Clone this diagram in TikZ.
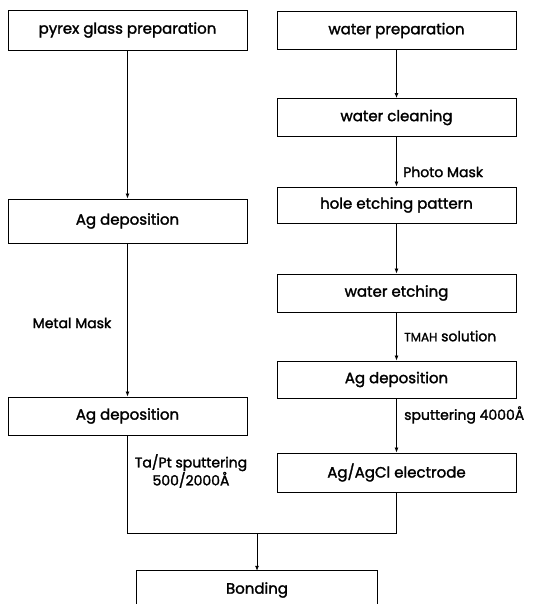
\documentclass[tikz,border=0pt]{standalone}
\usepackage{fontspec}
\setmainfont{Poppins}[FakeBold=1.8]
\newfontfamily\boldish{Poppins}[FakeBold=1.8]
\usetikzlibrary{arrows.meta}
\begin{document}
\begin{tikzpicture}[x=1pt,y=-1pt,
  box/.style={draw, line width=0.9pt, minimum width=239pt, minimum height=38pt, inner sep=0pt, font=\boldish\fontsize{15}{16}\selectfont},
  plain/.style={inner sep=0pt, font=\boldish\fontsize{15}{16}\selectfont},
  lbl/.style={inner sep=0pt, font=\boldish\fontsize{14}{18}\selectfont, align=center},
  conn/.style={line width=0.8pt},
  arr/.style={line width=0.8pt, -{Latex[length=5pt,width=4pt]}}]
\useasboundingbox (0,0) rectangle (535,604);
% left column
\node[box, minimum height=40pt] (pyrex) at (127.5,30) {pyrex glass preparation};
\node[box, minimum height=44pt] (agl1) at (127.5,221) {Ag deposition};
\node[box] (agl2) at (127.5,416) {Ag deposition};
% right column
\node[box] (wprep) at (396.5,30.5) {water preparation};
\node[box] (wclean) at (396.5,117.5) {water cleaning};
\node[box, minimum height=36pt] (hole) at (396.5,205) {hole etching pattern};
\node[box] (wetch) at (396.5,293) {water etching};
\node[box, minimum height=37pt] (agr) at (396.5,379.5) {Ag deposition};
\node[box, minimum height=39pt] (agcl) at (396.5,472.5) {Ag/AgCl electrode};
% bonding (bottom cut by the page edge)
\node[plain, minimum width=240pt, minimum height=38pt] (bond) at (257,590) {Bonding};
\draw[line width=0.9pt] (bond.west |- 0,606) -- (bond.north west) -- (bond.north east) -- (bond.east |- 0,606);
% connectors
\draw[arr] (pyrex.south) -- (agl1.north);
\draw[arr] (agl1.south) -- (agl2.north);
\draw[arr] (wprep.south) -- (wclean.north);
\draw[arr] (wclean.south) -- (hole.north);
\draw[arr] (hole.south) -- (wetch.north);
\draw[arr] (wetch.south) -- (agr.north);
\draw[arr] (agr.south) -- (agcl.north);
\coordinate (jl) at (127.5,533);
\coordinate (jr) at (396.5,533);
\coordinate (jm) at (257,533);
\draw[conn] (agl2.south) -- (jl) -- (jr) -- (agcl.south);
\draw[arr] (jm) -- (bond.north);
% labels
\node[lbl] (lmetal) at (72,323) {Metal Mask};
\node[lbl, anchor=west] (lphoto) at (403,172) {Photo Mask};
\node[lbl, anchor=west] (ltmah) at (404,336) {{\fontsize{12}{13}\selectfont TMAH} solution};
\node[lbl, anchor=west] (lsput) at (404,415) {sputtering 4000Å};
\node[lbl] (ltapt) at (191,471) {Ta/Pt sputtering\\500/2000Å};
\end{tikzpicture}
\end{document}
